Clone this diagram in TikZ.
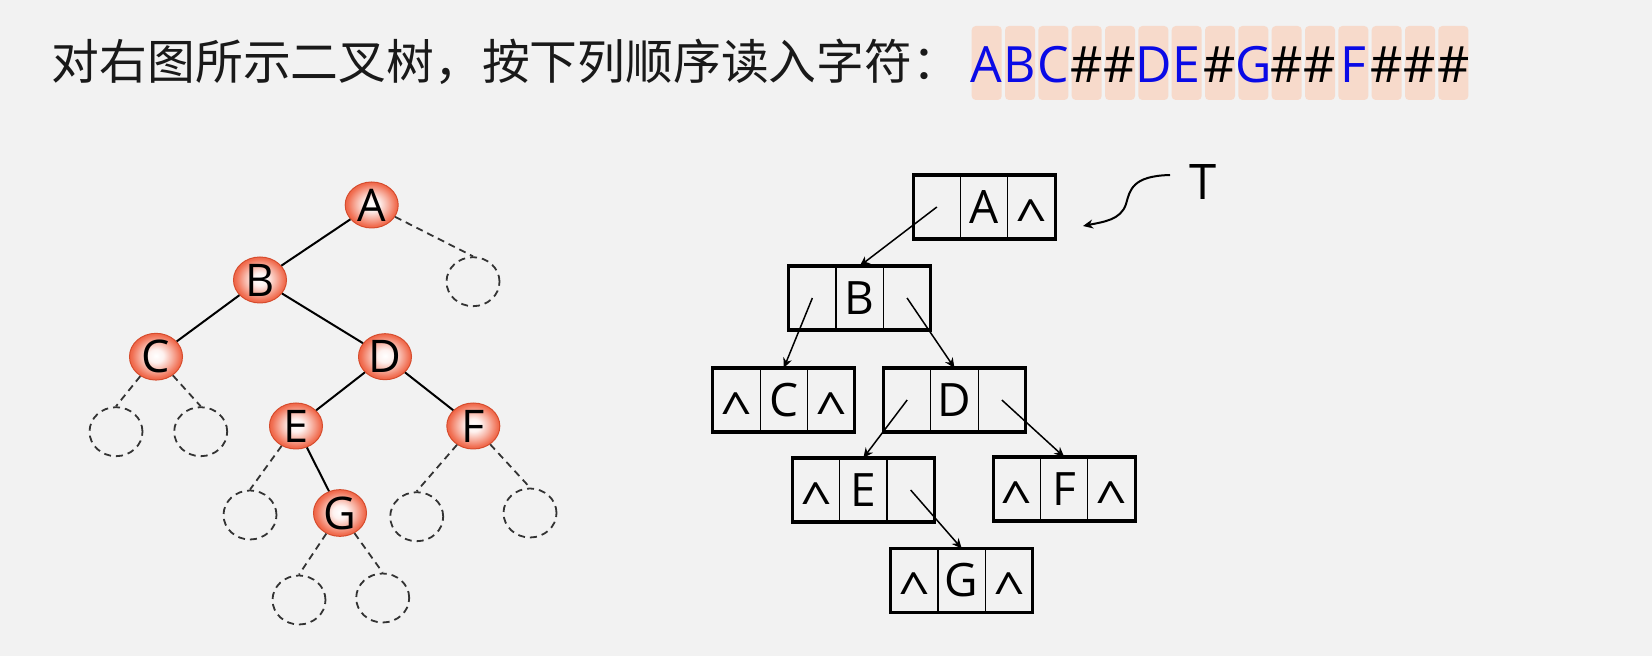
\documentclass[tikz,border=0pt]{standalone}
\usepackage{fontspec}
\setmainfont{Open Sans}
\newfontfamily\cjk{Noto Sans CJK SC}
\usetikzlibrary{positioning,arrows.meta,shapes.geometric,fit}
\definecolor{slidebg}{RGB}{242,242,242}
\definecolor{ballred}{RGB}{238,84,50}
\definecolor{seqbg}{RGB}{247,218,203}
\definecolor{seqblue}{RGB}{10,10,230}
\pgfdeclareradialshading{ballglow}{\pgfpoint{0bp}{1bp}}{color(0bp)=(white); color(7bp)=(white!92!ballred); color(15bp)=(white!55!ballred); color(23bp)=(white!15!ballred); color(30bp)=(ballred); color(50bp)=(ballred!95!black)}
\newcommand{\nil}{\raisebox{-5.5pt}{\scalebox{1.2}[1.05]{\char"5E}}}
\newcommand{\bnode}[5]{%
  \node[cell] (#1-d) at (#2) {#4};
  \node[cell, left=0pt of #1-d] (#1-l) {#3};
  \node[cell, right=0pt of #1-d] (#1-r) {#5};
  \node[frame, fit=(#1-l)(#1-r)] (#1) {};
}

\begin{document}
\begin{tikzpicture}[
  x=0.5pt, y=-0.5pt,
  ball/.style={ellipse, shade, shading=ballglow, draw=ballred!90!black, line width=0.5pt, minimum width=26.5pt, minimum height=23pt, inner sep=0, font=\fontsize{22.5}{26}\selectfont},
  hole/.style={ellipse, draw=black!80, line width=0.9pt, dash pattern=on 3.5pt off 2.5pt, minimum width=26.5pt, minimum height=24.5pt, inner sep=0},
  branch/.style={line width=1pt},
  nullbranch/.style={line width=0.9pt, black!80, dash pattern=on 3.5pt off 2.5pt},
  cell/.style={draw, line width=0.6pt, minimum width=23.67pt, minimum height=32pt, inner sep=0, outer sep=0, text height=16.4pt, text depth=0pt, font=\fontsize{23}{27}\selectfont},
  frame/.style={draw, line width=1.6pt, inner sep=0, outer sep=0},
  ptr/.style={-{Stealth[length=5pt,width=4.5pt]}, line width=0.75pt}
]
\fill[slidebg] (0,0) rectangle (1652,656);
\useasboundingbox (0,0) rectangle (1652,656);

% title line
\node[anchor=base west, inner sep=0, text=black!90, font=\cjk\fontsize{23.9}{28}\selectfont] (title) at (51.5,80) {对右图所示二叉树，按下列顺序读入字符：};
\foreach \ch/\col [count=\i from 0] in {A/seqblue, B/seqblue, C/seqblue, \#/black, \#/black, D/seqblue, E/seqblue, \#/black, G/seqblue, \#/black, \#/black, F/seqblue, \#/black, \#/black, \#/black} {
  \fill[seqbg, rounded corners=2pt] ({971.7+33.33*\i},26) rectangle ++(30,74);
  \node[anchor=base, inner sep=0, text=\col, font=\fontsize{25}{30}\selectfont] (s\i) at ({986.7+33.33*\i},82.7) {\ch};
}

% binary tree
\node[hole] (nA) at (473,281.7) {};
\node[hole] (nCl) at (116,431.7) {};
\node[hole] (nCr) at (200.7,431.7) {};
\node[hole] (nEl) at (250,515) {};
\node[hole] (nFl) at (416.7,516.7) {};
\node[hole] (nFr) at (530,513) {};
\node[hole] (nGl) at (299,600) {};
\node[hole] (nGr) at (382.7,598) {};
\node[ball] (A) at (371.7,205) {A};
\node[ball] (B) at (260,280) {B};
\node[ball] (C) at (156,356.7) {C};
\node[ball] (D) at (385,356.7) {D};
\node[ball] (E) at (296,426) {E};
\node[ball] (F) at (473.3,426) {F};
\node[ball] (G) at (340,513) {G};
\draw[branch] (A) -- (B);
\draw[branch] (B) -- (C);
\draw[branch] (B) -- (D);
\draw[branch] (D) -- (E);
\draw[branch] (D) -- (F);
\draw[branch] (E) -- (G);
\draw[nullbranch] (A) -- (nA.north);
\draw[nullbranch] (C) -- (nCl.north);
\draw[nullbranch] (C) -- (nCr.north);
\draw[nullbranch] (E) -- (nEl.north);
\draw[nullbranch] (F) -- (nFl.north);
\draw[nullbranch] (F) -- (nFr.north);
\draw[nullbranch] (G) -- (nGl.north);
\draw[nullbranch] (G) -- (nGr.north);

% binary linked list
\bnode{LA}{984.2,207}{}{A}{\nil}
\bnode{LB}{859.7,298}{}{B}{}
\bnode{LC}{783.8,400}{\nil}{C}{\nil}
\bnode{LD}{954.5,400}{}{D}{}
\bnode{LE}{863.3,490}{\nil}{E}{}
\bnode{LF}{1064.2,489}{\nil}{F}{\nil}
\bnode{LG}{961.7,580.5}{\nil}{G}{\nil}
\draw[ptr] (LA-l.center) -- (LB.north);
\draw[ptr] (LB-l.center) -- (LC.north);
\draw[ptr] (LB-r.center) -- (LD.north);
\draw[ptr] (LD-l.center) -- (LE.north);
\draw[ptr] (LD-r.center) -- (LF.north);
\draw[ptr] (LE-r.center) -- (LG.north);

\node[font=\fontsize{24.5}{28}\selectfont] (T) at (1203,182.5) {T};
\coordinate (tail) at (1170,175);
\coordinate (head) at (1083,226);
\draw[ptr, line width=1pt] (tail) .. controls (1132,176) and (1130,190) .. (1126,204) .. controls (1121,220) and (1103,222) .. (head);
\end{tikzpicture}
\end{document}
